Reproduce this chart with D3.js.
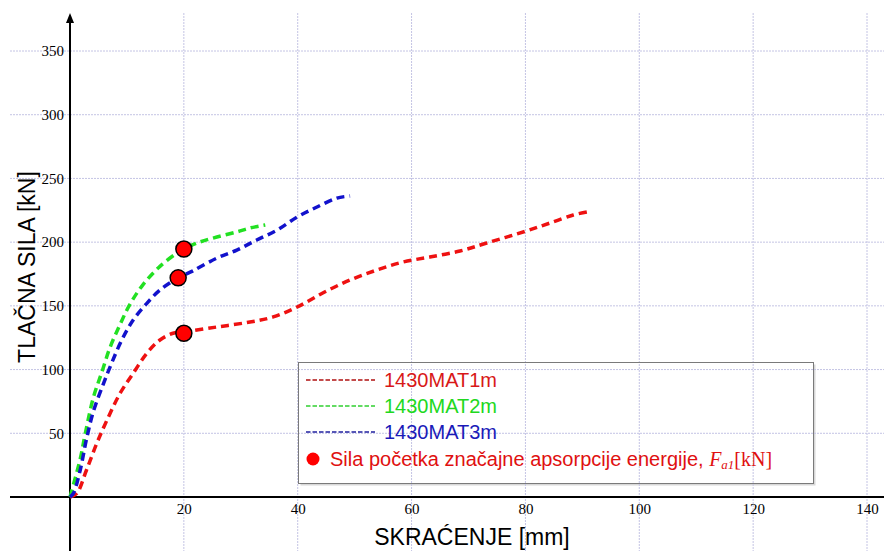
<!DOCTYPE html>
<meta charset="utf-8">
<script src="https://cdn.jsdelivr.net/npm/d3@7"></script>
<style>
  body { margin: 0; background: #fff; }
  .grid line { stroke: #c4c4e4; stroke-width: 1; stroke-dasharray: 2,1; }
  .title { font-family: "Liberation Sans", Arial, sans-serif; font-size: 23px; fill: #000; }
  .leg { font-family: "Liberation Sans", Arial, sans-serif; font-size: 20px; }
</style>
<body>
<script>
  // axis ticks
  var xTicks = [20, 40, 60, 80, 100, 120, 140];
  var yTicks = [50, 100, 150, 200, 250, 300, 350];

  // series
  var names = ["1430MAT1m", "1430MAT2m", "1430MAT3m"];
  var mat1X = [0, 1.2, 2.9, 4.7, 6.5, 8.8, 11.1, 13.5, 15.8, 18.1, 20, 25.8, 31.6, 35.7, 39.9, 44.4, 49.2, 53.9, 58.5, 63.2, 68.5, 73.2, 80.1, 84.3, 88.4, 90.8];
  var mat1Y = [0, 2.9, 21.2, 42.1, 60.4, 81.4, 97.1, 112.8, 123.2, 128.5, 129.5, 133.4, 137.3, 141.3, 149.1, 160.1, 170.3, 178.1, 184.4, 188.3, 193, 199.3, 208.7, 215, 221.3, 223.7];
  var mat2X = [0, 1.8, 2.6, 4.1, 5.6, 7.0, 8.8, 10.5, 12.8, 15.8, 18.8, 20, 22.8, 25.8, 29.3, 31.6, 34.3];
  var mat2Y = [0, 30, 48, 78, 98, 117, 135.5, 151, 166.5, 181, 191.5, 194.6, 200.1, 204, 208, 211.1, 213.5];
  var mat3X = [0, 0.6, 1.8, 2.9, 4.1, 5.9, 7.3, 9.1, 11.1, 13.5, 15.8, 19, 21.6, 25.8, 29.3, 32.8, 36.4, 39.9, 43.4, 46.9, 49.2];
  var mat3Y = [0, 2.9, 21.2, 45.5, 67, 89.2, 104.9, 123.2, 138.9, 152, 162.4, 172, 177.5, 187.5, 193.8, 201.7, 209.5, 219.7, 227.6, 234.6, 236.2];
  // start of significant energy absorption
  var markX = [20, 20, 19];
  var markY = [128.5, 194.6, 172];

  var colors = ["#ee1111", "#22e022", "#1212cc"];
  var legLine = ["#b01010", "#30d030", "#2020a0"];
  var legText = ["#d81818", "#20d820", "#1a1ab8"];

  var width = 884, height = 551;

  var svg = d3.select("body").append("svg")
    .attr("width", width)
    .attr("height", height);

  var x = d3.scaleLinear().domain([0, 140]).range([70, 867]);
  var y = d3.scaleLinear().domain([0, 350]).range([497, 51]);

  // legend box shadow goes under the grid
  svg.append("rect")
    .attr("x", 300.5).attr("y", 364.5)
    .attr("width", 515).attr("height", 121)
    .attr("fill", "#d8d8d8");
  svg.append("rect")
    .attr("x", 298.5).attr("y", 362.5)
    .attr("width", 515).attr("height", 121)
    .attr("fill", "#fff");

  // grid
  var grid = svg.append("g").attr("class", "grid");
  grid.selectAll(".gx").data(xTicks).enter().append("line")
    .attr("x1", d => x(d)).attr("x2", d => x(d))
    .attr("y1", 13).attr("y2", height);
  grid.selectAll(".gy").data(yTicks).enter().append("line")
    .attr("x1", 10).attr("x2", width)
    .attr("y1", d => y(d)).attr("y2", d => y(d));

  // tick labels
  var xAxis = svg.append("g")
    .attr("transform", "translate(0," + y(0) + ")")
    .call(d3.axisBottom(x).tickValues(xTicks).tickSize(0).tickPadding(6));
  xAxis.select(".domain").remove();

  var yAxis = svg.append("g")
    .attr("transform", "translate(" + x(0) + ",0)")
    .call(d3.axisLeft(y).tickValues(yTicks).tickSize(0).tickPadding(6));
  yAxis.select(".domain").remove();

  svg.selectAll(".tick text")
    .style("font-family", "'Liberation Serif', 'Times New Roman', serif")
    .style("font-size", "15px")
    .style("fill", "#000");

  // axis lines
  svg.append("line")
    .attr("x1", 10).attr("x2", width)
    .attr("y1", y(0)).attr("y2", y(0))
    .attr("stroke", "#000").attr("stroke-width", 2);
  svg.append("line")
    .attr("x1", x(0)).attr("x2", x(0))
    .attr("y1", 20).attr("y2", height)
    .attr("stroke", "#000").attr("stroke-width", 2);
  svg.append("path")
    .attr("d", "M" + (x(0) - 4) + ",23L" + x(0) + ",13L" + (x(0) + 4) + ",23Z")
    .attr("fill", "#000");

  // curves
  var line = d3.line()
    .x(d => x(d[0]))
    .y(d => y(d[1]))
    .curve(d3.curveCatmullRom.alpha(0.5));

  var series = [
    d3.zip(mat1X, mat1Y),
    d3.zip(mat2X, mat2Y),
    d3.zip(mat3X, mat3Y)
  ];

  svg.append("g").selectAll("path")
    .data(series)
    .enter().append("path")
    .attr("d", line)
    .attr("fill", "none")
    .attr("stroke", (d, i) => colors[i])
    .attr("stroke-width", 3.5)
    .attr("stroke-dasharray", "8,5");

  svg.append("g").selectAll("circle")
    .data(d3.zip(markX, markY))
    .enter().append("circle")
    .attr("cx", d => x(d[0]))
    .attr("cy", d => y(d[1]))
    .attr("r", 8)
    .attr("fill", "#ff0000")
    .attr("stroke", "#000")
    .attr("stroke-width", 1.5);

  // axis titles
  svg.append("text")
    .attr("class", "title")
    .attr("transform", "translate(35,267) rotate(-90)")
    .attr("text-anchor", "middle")
    .text("TLAČNA SILA [kN]");

  svg.append("text")
    .attr("class", "title")
    .attr("x", 472)
    .attr("y", 545)
    .attr("text-anchor", "middle")
    .text("SKRAĆENJE [mm]");

  // legend
  var leg = svg.append("g");
  leg.append("rect")
    .attr("x", 298.5).attr("y", 362.5)
    .attr("width", 515).attr("height", 121)
    .attr("fill", "none")
    .attr("stroke", "#7a7a7a");

  var rows = leg.selectAll(".row")
    .data(names)
    .enter().append("g")
    .attr("transform", (d, i) => "translate(0," + (380 + i * 26) + ")");
  rows.append("line")
    .attr("x1", 306).attr("x2", 375)
    .attr("stroke", (d, i) => legLine[i])
    .attr("stroke-width", 1.3)
    .attr("stroke-dasharray", "4.5,2");
  rows.append("text")
    .attr("class", "leg")
    .attr("x", 384)
    .attr("dy", "0.35em")
    .attr("fill", (d, i) => legText[i])
    .text(d => d);

  leg.append("circle")
    .attr("cx", 313).attr("cy", 459)
    .attr("r", 6.5)
    .attr("fill", "#ff0000");
  var lt = leg.append("text")
    .attr("class", "leg")
    .attr("x", 330)
    .attr("y", 466)
    .attr("fill", "#e01010");
  lt.append("tspan").text("Sila početka značajne apsorpcije energije, ");
  lt.append("tspan")
    .style("font-family", "'Liberation Serif', serif")
    .style("font-style", "italic")
    .text("F");
  lt.append("tspan")
    .style("font-family", "'Liberation Serif', serif")
    .style("font-style", "italic")
    .style("font-size", "13px")
    .attr("dy", 3)
    .text("a1");
  lt.append("tspan")
    .style("font-family", "'Liberation Serif', serif")
    .attr("dy", -3)
    .text("[kN]");
</script>
</body>
